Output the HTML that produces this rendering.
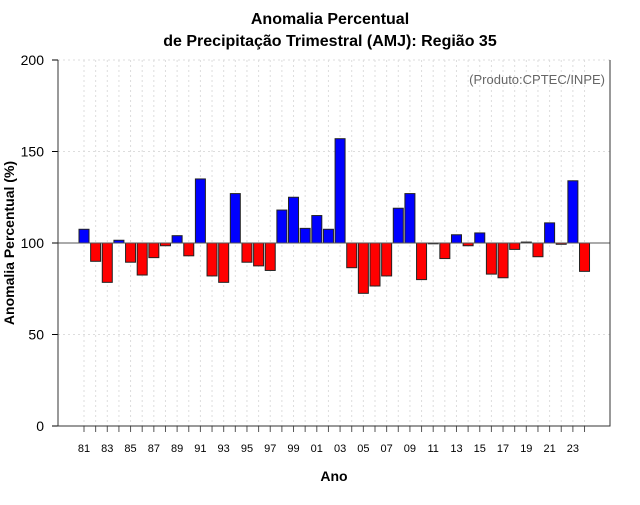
<!DOCTYPE html>
<html><head><meta charset="utf-8"><style>
body{margin:0;background:#fff}
svg text{font-family:"Liberation Sans",sans-serif}
</style></head><body>
<svg id="c" width="640" height="500"></svg>
<script>
const years=[81,82,83,84,85,86,87,88,89,90,91,92,93,94,95,96,97,98,99,0,1,2,3,4,5,6,7,8,9,10,11,12,13,14,15,16,17,18,19,20,21,22,23,24];
const values=[107.5,90,78.5,101.5,89.5,82.5,92,98.5,104,93,135,82,78.5,127,89.5,87.5,85,118,125,108,115,107.5,157,86.5,72.5,76.5,82,119,127,80,99.8,91.5,104.5,98.5,105.5,83,81,96.5,100.5,92.5,111,99.3,134,84.5];
const yTicks=[0,50,100,150,200];
const NS="http://www.w3.org/2000/svg";
const svg=document.getElementById('c');
const L=58,R=610,T=60,B=426;
const y=v=>B-(v/200)*(B-T);
const x=i=>84+i*11.64;
function el(t,a,txt){const e=document.createElementNS(NS,t);for(const k in a)e.setAttribute(k,a[k]);if(txt!==undefined)e.textContent=txt;svg.appendChild(e);return e;}
// grid
years.forEach((yr,i)=>{const g=el('line',{x1:x(i),x2:x(i),y1:T,y2:B,stroke:'#ddd','stroke-dasharray':'2,3'});

});
yTicks.forEach(v=>{const g=el('line',{x1:L,x2:R,y1:y(v),y2:y(v),stroke:'#ddd','stroke-dasharray':'2,3'});


const t=el('line',{x1:L-6,x2:L,y1:y(v),y2:y(v),stroke:'#000'});


const l=el('text',{x:L-14,y:y(v)+5,'text-anchor':'end','font-size':14},String(v));

});
// bars
values.forEach((v,i)=>{const top=Math.min(y(v),y(100)),h=Math.abs(y(v)-y(100));
const b=el('rect',{x:x(i)-5,y:top,width:10,height:Math.max(h,0.8),fill:v>=100?'#0000ff':'#ff0000',stroke:'#222','stroke-width':1});

});
const ref=el('line',{x1:L,x2:R,y1:y(100),y2:y(100),stroke:'#555'});


// x ticks
years.forEach((yr,i)=>{const t=el('line',{x1:x(i),x2:x(i),y1:B,y2:B+6,stroke:'#555'});


if(i%2===0){const l=el('text',{x:x(i),y:452,'text-anchor':'middle','font-size':11},String(yr).padStart(2,'0'));

}});
const box=el('path',{d:`M${L},${T}V${B}H${R}V${T}`,fill:'none',stroke:'#333'});


const t1=el('text',{x:330,y:24,'text-anchor':'middle','font-size':16,'font-weight':'bold'},'Anomalia Percentual');


const t2=el('text',{x:330,y:46,'text-anchor':'middle','font-size':16,'font-weight':'bold'},'de Precipitação Trimestral (AMJ): Região 35');


const cr=el('text',{x:605,y:84,'text-anchor':'end','font-size':13,fill:'#666'},'(Produto:CPTEC/INPE)');


const xa=el('text',{x:334,y:481,'text-anchor':'middle','font-size':14,'font-weight':'bold'},'Ano');


const ya=el('text',{x:0,y:0,'text-anchor':'middle','font-size':14,'font-weight':'bold',transform:'translate(14,243) rotate(-90)'},'Anomalia Percentual (%)');


</script>
</body></html>
